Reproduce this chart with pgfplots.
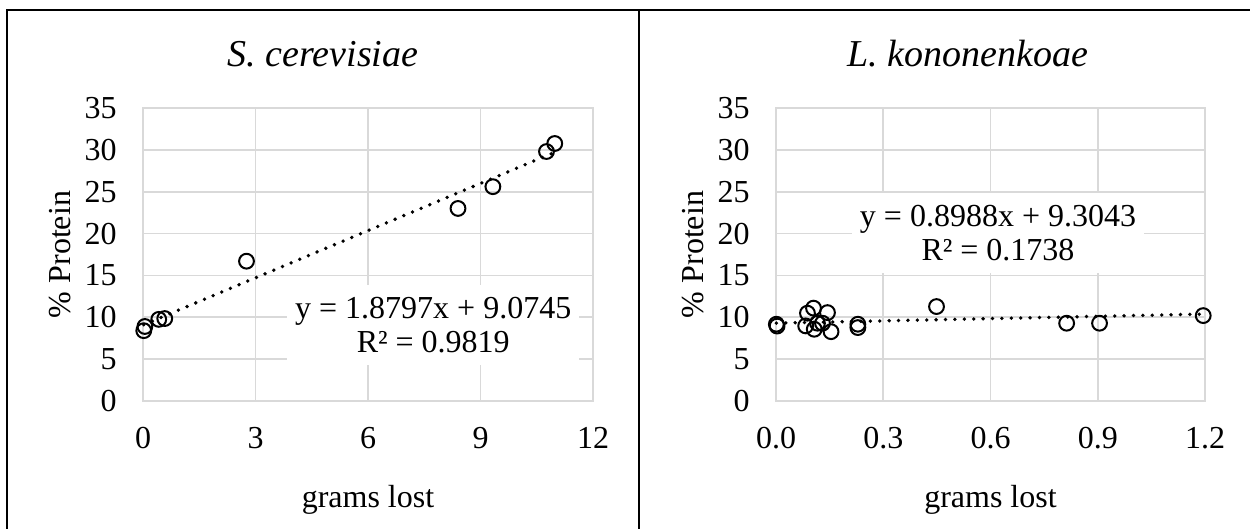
\documentclass[border=0pt]{standalone}
\usepackage{fontspec}
\setmainfont{Liberation Serif}
\usepackage{pgfplots}
\pgfplotsset{compat=1.18}

\definecolor{gridgray}{HTML}{D9D9D9}

\tikzset{
  eqbox/.style={fill=white, align=center, inner xsep=4pt, inner ysep=6pt,
    font=\fontsize{16}{17}\selectfont},
}

\pgfplotsset{
  excel/.style={
    scale only axis,
    height=146.5pt,
    ymin=0, ymax=35, ytick={0,5,...,35},
    grid=major,
    major grid style={gridgray, line width=0.9pt},
    axis line style={gridgray, line width=0.9pt},
    major tick length=0pt,
    tick style={draw=none},
    /pgf/number format/assume math mode=true,
    tick label style={font=\fontsize{16}{19}\selectfont},
    x tick label style={anchor=north, inner sep=0pt, yshift=-13pt},
    y tick label style={anchor=east, inner sep=0pt, xshift=-13pt},
    label style={font=\fontsize{16}{19}\selectfont},
    xlabel={grams lost},
    ylabel={\% Protein},
    xlabel style={at={(axis description cs:0.5,-0.365)}, anchor=base, inner sep=0pt},
    clip=false,
  },
  obs/.style={only marks, mark=o, mark size=3.7pt,
    mark options={draw=black, line width=1pt}},
  trend/.style={black, line width=1.9pt, line cap=round,
    dash pattern=on 0pt off 4.7pt},
}

\begin{document}
\begin{tikzpicture}
\useasboundingbox (0,0) rectangle (625pt,264.5pt);
\draw[line width=1pt] (3.5pt,0) -- (3.5pt,259.5pt) -- (625pt,259.5pt);
\draw[line width=1pt] (319.5pt,0) -- (319.5pt,259.5pt);

% S. cerevisiae
\begin{axis}[excel,
  at={(71.5pt,64pt)}, anchor=south west,
  width=225pt,
  xmin=0, xmax=12, xtick={0,3,6,9,12},
  ylabel style={at={(axis description cs:-0.16,0.5)}, anchor=south, inner sep=0pt},
]
  \addplot[obs] coordinates {
    (0.02,8.4) (0.05,8.9) (0.42,9.75) (0.58,9.85) (2.76,16.7)
    (8.40,23.0) (9.33,25.6) (10.76,29.8) (10.98,30.76)
  };
  \addplot[trend] coordinates {(0.02,9.112) (10.98,29.714)};
  \node[eqbox] at (axis cs:7.74,9.1) {y = 1.8797x + 9.0745\\R² = 0.9819};
\end{axis}

% L. kononenkoae
\begin{axis}[excel,
  at={(388pt,64pt)}, anchor=south west,
  width=214.5pt,
  xmin=0, xmax=1.2, xtick={0,0.3,0.6,0.9,1.2},
  xticklabels={0.0,0.3,0.6,0.9,1.2},
  ylabel style={at={(axis description cs:-0.168,0.5)}, anchor=south, inner sep=0pt},
]
  \addplot[obs] coordinates {
    (0.001,9.17) (0.003,8.95) (0.083,8.97) (0.088,10.49) (0.105,11.09)
    (0.107,8.57) (0.116,9.29) (0.130,9.29) (0.144,10.56) (0.154,8.28)
    (0.229,9.17) (0.229,8.77) (0.449,11.28) (0.813,9.29) (0.905,9.29)
    (1.195,10.2)
  };
  \addplot[trend] coordinates {(0.001,9.305) (1.195,10.378)};
  \node[eqbox] at (axis cs:0.621,20.1) {y = 0.8988x + 9.3043\\R² = 0.1738};
\end{axis}

\node[anchor=base, font=\fontsize{19}{23}\selectfont\itshape] at (161.5pt,231pt) {S. cerevisiae};
\node[anchor=base, font=\fontsize{19}{23}\selectfont\itshape] at (484pt,231pt) {L. kononenkoae};
\end{tikzpicture}
\end{document}
